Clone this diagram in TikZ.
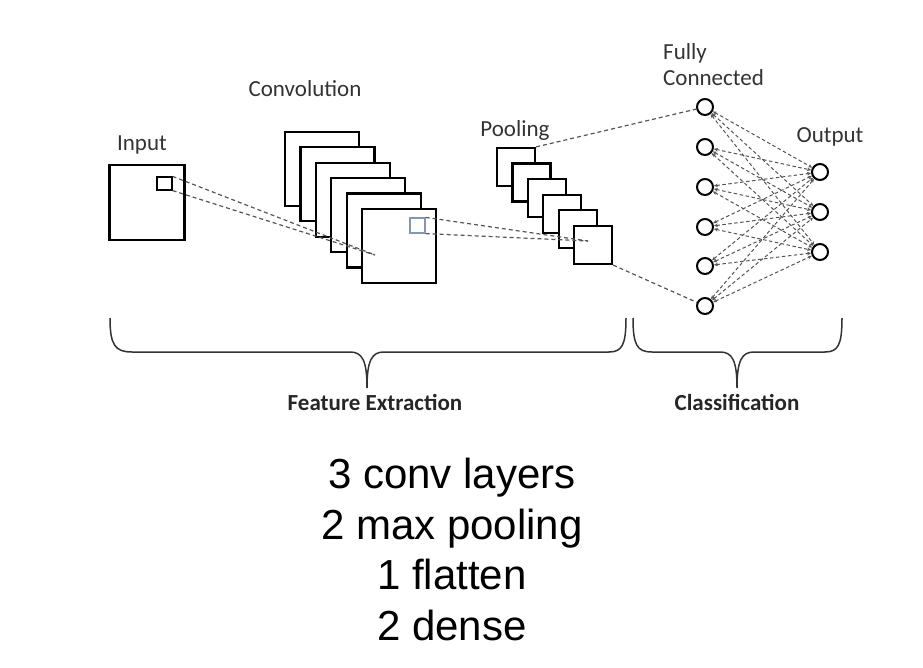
\documentclass[tikz,border=0pt]{standalone}
\usepackage{fontspec}
\setmainfont{Carlito}
\newfontfamily\arialfont{Liberation Sans}
\usetikzlibrary{arrows.meta}
\definecolor{dashgray}{HTML}{555555}
\definecolor{bluesq}{HTML}{8497B0}
\begin{document}
\begin{tikzpicture}[x=1pt,y=-1pt,
  bigsq/.style={draw, line width=2.2pt, fill=white, minimum size=74pt, inner sep=0pt},
  insq/.style={draw, line width=2.2pt, fill=white, minimum size=75pt, inner sep=0pt},
  poolsq/.style={draw, line width=2.2pt, fill=white, minimum size=38pt, inner sep=0pt},
  smallsq/.style={draw, line width=1.2pt, minimum size=14pt, inner sep=0pt},
  neuron/.style={draw, circle, line width=2pt, fill=white, minimum size=16pt, inner sep=0pt},
  dline/.style={draw=dashgray, line width=1.2pt, dash pattern=on 4pt off 3pt},
  fcline/.style={draw=dashgray, line width=1pt, dash pattern=on 3.5pt off 2.5pt, {Stealth[length=4pt,width=3.5pt]}-{Stealth[length=4pt,width=3.5pt]}},
  brace/.style={draw=black!80, line width=1.5pt},
  lbl/.style={font=\fontsize{23}{26}\selectfont, text=black!80, inner sep=0pt},
  blbl/.style={font=\fontsize{23}{26}\selectfont\bfseries, text=black!85, inner sep=0pt}
]
\useasboundingbox (0,0) rectangle (923,668);

% Input
\node[insq] (in) at (147,202.5) {};
\node[smallsq, minimum width=15pt, minimum height=13pt] (ins) at (164.5,183.5) {};
\node[lbl] (inlbl) at (142,145) {Input};

% Convolution stack
\foreach \i in {1,...,6} {
  \node[bigsq] (c\i) at ({322+15.4*(\i-1)},{169+15.4*(\i-1)}) {};
}
\node[smallsq, draw=bluesq, minimum size=15pt] (bs) at (417.5,225.5) {};
\node[lbl] (convlbl) at (305,89) {Convolution};

\coordinate (cpt) at (375,255);
\path[dline] (ins.north east) -- (cpt);
\path[dline] (ins.south east) -- (cpt);

% Pooling stack
\foreach \i in {1,...,6} {
  \node[poolsq] (p\i) at ({516+15.4*(\i-1)},{167+15.6*(\i-1)}) {};
}
\node[lbl] (poollbl) at (515,130) {Pooling};

\coordinate (ppt) at (588,241);
\path[dline] (bs.north east) -- (ppt);
\path[dline] (bs.south east) -- (ppt);

% Fully connected
\foreach \i/\y in {1/107,2/147,3/187,4/227,5/266,6/306} {
  \node[neuron] (f\i) at (705,\y) {};
}
\foreach \j/\y in {1/172,2/212,3/252} {
  \node[neuron] (o\j) at (820,\y) {};
}
\foreach \i in {1,...,6} {
  \foreach \j in {1,2,3} {
    \path[fcline] (f\i) -- (o\j);
  }
}
\path[dline] (p1.north east) -- (f1);
\path[dline] (p6.south east) -- (f6);

\node[lbl, anchor=west, align=left] (fclbl) at (663,65) {Fully\\Connected};
\node[lbl] (outlbl) at (830,137) {Output};

% Braces
\path[brace] (110,318) .. controls (110,345) and (115,352) .. (132,352) -- (350,352)
  .. controls (362,352) and (367,360) .. (367,388)
  .. controls (367,360) and (372,352) .. (384,352) -- (609,352)
  .. controls (622,352) and (626,345) .. (626,318);
\path[brace] (633,318) .. controls (633,345) and (637,352) .. (652,352) -- (720,352)
  .. controls (732,352) and (737,360) .. (737,388)
  .. controls (737,360) and (742,352) .. (754,352) -- (825,352)
  .. controls (838,352) and (842,345) .. (842,318);

\node[blbl] (fe) at (375,402) {Feature Extraction};
\node[blbl] (cl) at (737,402) {Classification};

% Bottom text
\node[font=\arialfont\fontsize{42}{50.5}\selectfont, align=center, inner sep=0pt] (summary) at (452,549.5)
  {3 conv layers\\2 max pooling\\1 flatten\\2 dense};
\end{tikzpicture}
\end{document}
